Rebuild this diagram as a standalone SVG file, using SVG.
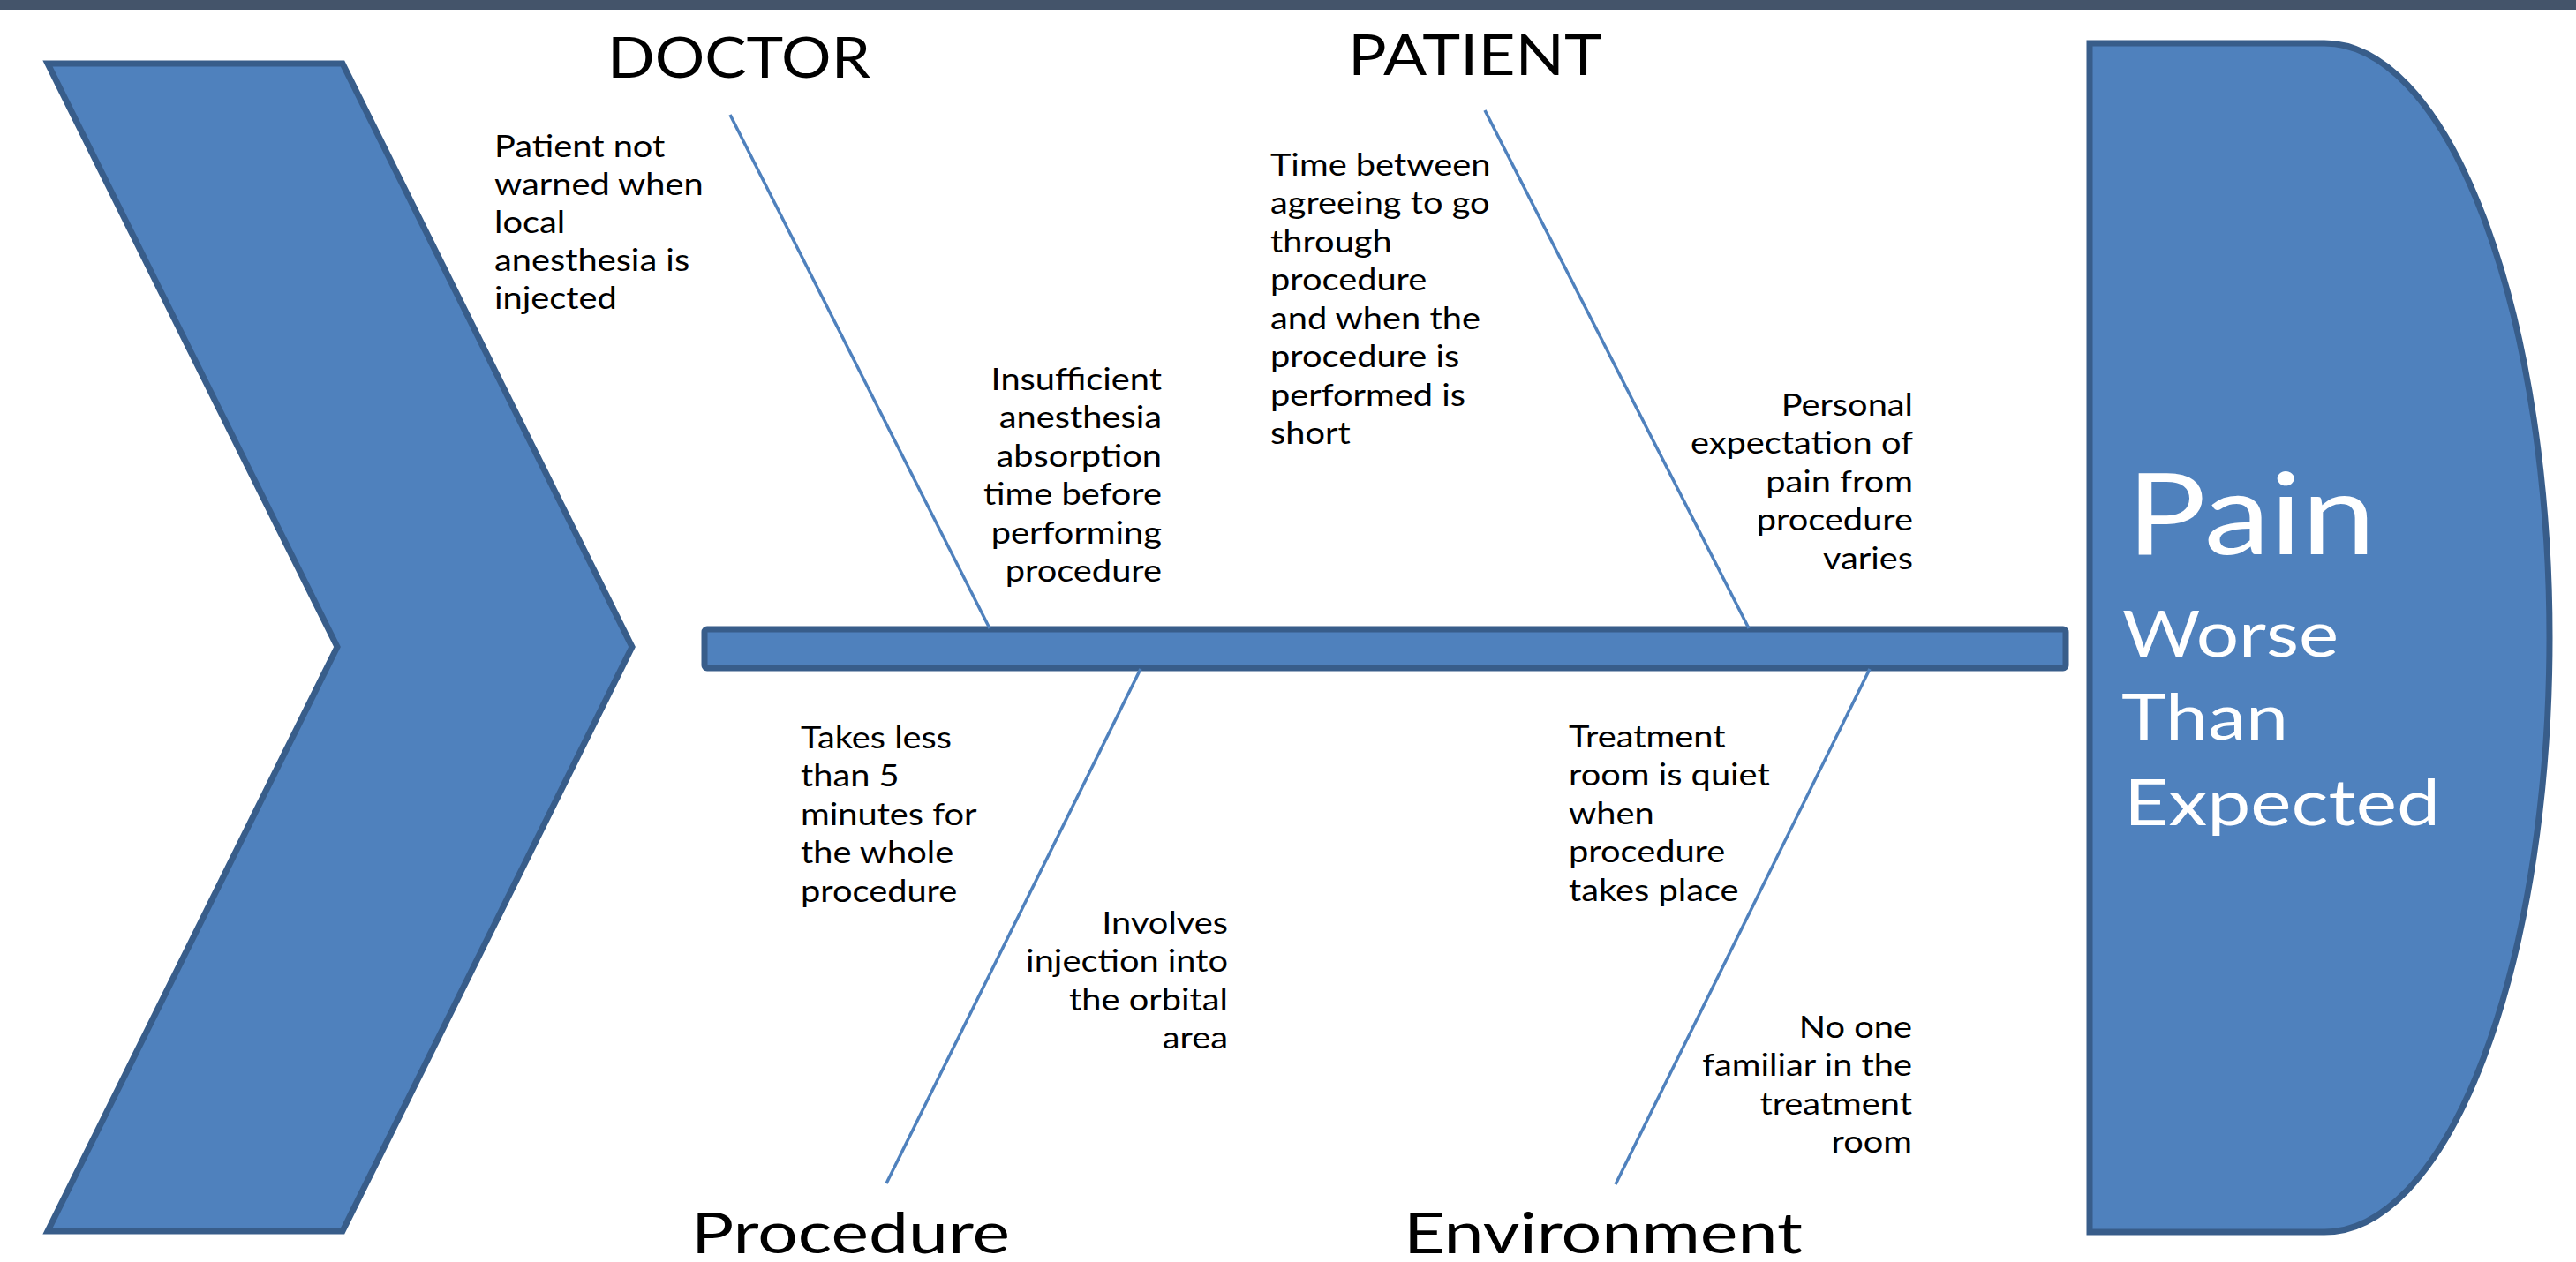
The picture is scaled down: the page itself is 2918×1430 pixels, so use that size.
<svg xmlns="http://www.w3.org/2000/svg" width="2918" height="1430" viewBox="0 0 2918 1430">
<style>
.shape{fill:#4F81BD;stroke:#385D8A;stroke-width:7;stroke-linejoin:miter}
.bone{stroke:#4F81BD;stroke-width:3.5;fill:none}
.lbl{font-family:Lato,"Liberation Sans",sans-serif;font-size:34px;fill:#000}
.hdr{font-family:Lato,"Liberation Sans",sans-serif;font-size:64px;fill:#000}
.eff{font-family:Lato,"Liberation Sans",sans-serif;fill:#fff}
</style>
<rect x="0" y="0" width="2918" height="11" fill="#44546A"/>
<g id="chevron">
<polygon class="shape" points="54,72 388,72 716,733 388,1395 54,1395 382,733"/>
</g>
<g id="spine">
<rect class="shape" x="798" y="713" width="1542" height="44" rx="3" stroke-width="8"/>
</g>
<g id="effect">
<path class="shape" stroke-width="8" d="M2367,49 H2633 A255,673.5 0 0 1 2633,1396 H2367 Z"/>
<text class="eff" x="2409" y="628" font-size="128" textLength="282" lengthAdjust="spacingAndGlyphs">Pain</text>
<text class="eff" x="2404" y="744" font-size="72" textLength="245" lengthAdjust="spacingAndGlyphs">Worse</text>
<text class="eff" x="2403" y="838" font-size="72" textLength="189" lengthAdjust="spacingAndGlyphs">Than</text>
<text class="eff" x="2406" y="935" font-size="72" textLength="358" lengthAdjust="spacingAndGlyphs">Expected</text>
</g>
<g id="connectors">
<line class="bone" x1="827" y1="130" x2="1121" y2="712"/>
<line class="bone" x1="1682" y1="125" x2="1981" y2="712"/>
<line class="bone" x1="1292" y1="758" x2="1004" y2="1341"/>
<line class="bone" x1="2118" y1="758" x2="1830" y2="1342"/>
</g>
<g id="doctor">
<text class="hdr" x="688" y="88" textLength="298" lengthAdjust="spacingAndGlyphs">DOCTOR</text>
<g transform="translate(560,0) scale(1.17,1)">
<text class="lbl"><tspan x="0" y="178">Patient not</tspan><tspan x="0" y="221">warned when</tspan><tspan x="0" y="264">local</tspan><tspan x="0" y="307">anesthesia is</tspan><tspan x="0" y="350">injected</tspan></text>
</g>
<g transform="translate(1316,0) scale(1.17,1)">
<text class="lbl" text-anchor="end"><tspan x="0" y="442">Insufficient</tspan><tspan x="0" y="485.5">anesthesia</tspan><tspan x="0" y="529">absorption</tspan><tspan x="0" y="572.5">time before</tspan><tspan x="0" y="616">performing</tspan><tspan x="0" y="659.5">procedure</tspan></text>
</g>
</g>
<g id="patient">
<text class="hdr" x="1527" y="85" textLength="288" lengthAdjust="spacingAndGlyphs">PATIENT</text>
<g transform="translate(1439,0) scale(1.17,1)">
<text class="lbl"><tspan x="0" y="199">Time between</tspan><tspan x="0" y="242.5">agreeing to go</tspan><tspan x="0" y="286">through</tspan><tspan x="0" y="329.5">procedure</tspan><tspan x="0" y="373">and when the</tspan><tspan x="0" y="416.5">procedure is</tspan><tspan x="0" y="460">performed is</tspan><tspan x="0" y="503.5">short</tspan></text>
</g>
<g transform="translate(2167,0) scale(1.17,1)">
<text class="lbl" text-anchor="end"><tspan x="0" y="471">Personal</tspan><tspan x="0" y="514.5">expectation of</tspan><tspan x="0" y="558">pain from</tspan><tspan x="0" y="601.5">procedure</tspan><tspan x="0" y="645">varies</tspan></text>
</g>
</g>
<g id="procedure">
<text class="hdr" x="783" y="1420" textLength="361" lengthAdjust="spacingAndGlyphs">Procedure</text>
<g transform="translate(907,0) scale(1.17,1)">
<text class="lbl"><tspan x="0" y="848">Takes less</tspan><tspan x="0" y="891.5">than 5</tspan><tspan x="0" y="935">minutes for</tspan><tspan x="0" y="978.5">the whole</tspan><tspan x="0" y="1022">procedure</tspan></text>
</g>
<g transform="translate(1391,0) scale(1.17,1)">
<text class="lbl" text-anchor="end"><tspan x="0" y="1058">Involves</tspan><tspan x="0" y="1101.5">injection into</tspan><tspan x="0" y="1145">the orbital</tspan><tspan x="0" y="1188.5">area</tspan></text>
</g>
</g>
<g id="environment">
<text class="hdr" x="1590" y="1420" textLength="452" lengthAdjust="spacingAndGlyphs">Environment</text>
<g transform="translate(1777,0) scale(1.17,1)">
<text class="lbl"><tspan x="0" y="847">Treatment</tspan><tspan x="0" y="890.5">room is quiet</tspan><tspan x="0" y="934">when</tspan><tspan x="0" y="977.5">procedure</tspan><tspan x="0" y="1021">takes place</tspan></text>
</g>
<g transform="translate(2166,0) scale(1.17,1)">
<text class="lbl" text-anchor="end"><tspan x="0" y="1176">No one</tspan><tspan x="0" y="1219.5">familiar in the</tspan><tspan x="0" y="1263">treatment</tspan><tspan x="0" y="1306.5">room</tspan></text>
</g>
</g>
</svg>
